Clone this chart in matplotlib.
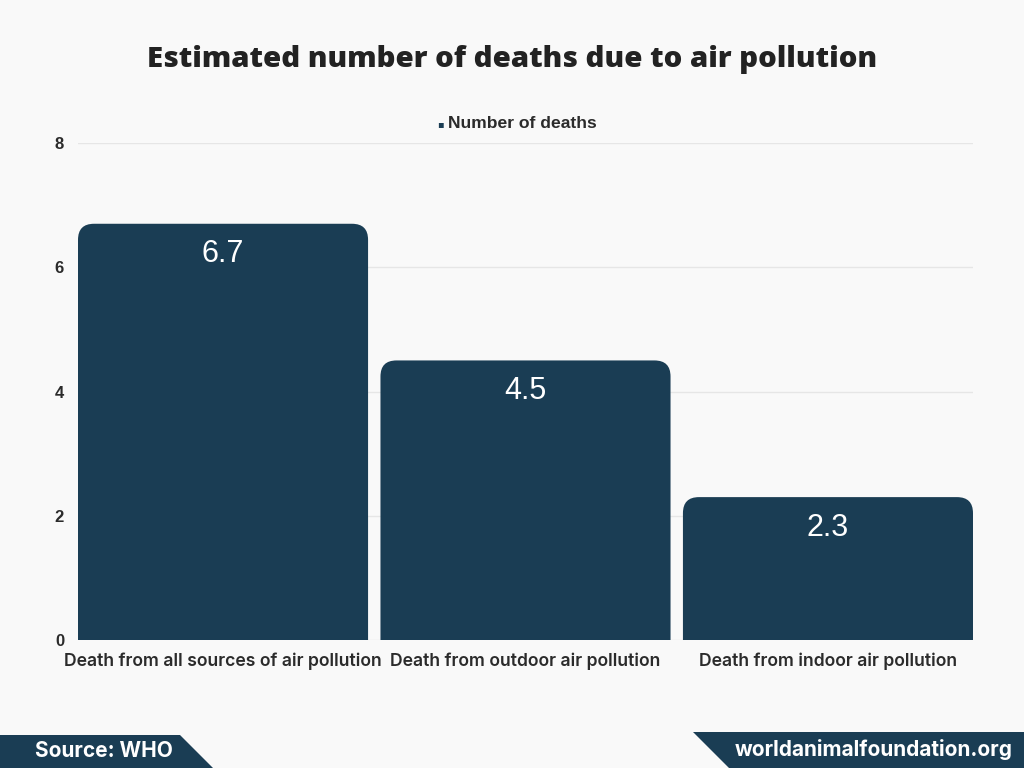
import matplotlib
matplotlib.use("Agg")
import matplotlib.pyplot as plt
from matplotlib.patches import FancyBboxPatch, Polygon

# data
categories = ["Death from all sources of air pollution",
              "Death from outdoor air pollution",
              "Death from indoor air pollution"]
deaths = [6.7, 4.5, 2.3]
y_ticks = [0, 2, 4, 6, 8]

bg = "#f9f9f9"
bar_color = "#1a3d54"
text_dark = "#2b2b2b"

fig = plt.figure(figsize=(10.24, 7.68), dpi=100, facecolor=bg)
ax = fig.add_axes([78 / 1024, 1 - 640 / 768, (973 - 78) / 1024, (640 - 143) / 768])
ax.set_facecolor(bg)

width = 0.959
ax.set_xlim(-width / 2, len(categories) - 1 + width / 2)
ax.set_ylim(0, 8)

# rounded top bars (bottom goes below 0 and is clipped by axes)
px_x = (973 - 78) / (len(categories) - 1 + width)
px_y = (640 - 143) / 8
radius = 16 / px_x
aspect = px_x / px_y
for i, v in enumerate(deaths):
    patch = FancyBboxPatch((i - width / 2, -1), width, v + 1,
                           boxstyle=f"round,pad=0,rounding_size={radius}",
                           mutation_aspect=aspect,
                           facecolor=bar_color, edgecolor="none", zorder=3)
    ax.add_patch(patch)
    ax.annotate(f"{v}", (i, v), xytext=(0, -22), textcoords="offset points",
                ha="center", va="center", color="white", fontsize=22,
                family="Liberation Sans", zorder=4)

ax.set_yticks(y_ticks)
ax.set_yticklabels([str(t) for t in y_ticks], fontsize=12, fontweight="bold",
                   color=text_dark, family="Liberation Sans")
ax.set_xticks(range(len(categories)))
ax.set_xticklabels(categories, fontsize=12.7, fontweight="semibold",
                   color=text_dark, family="Inter")
ax.tick_params(axis="both", length=0)
ax.tick_params(axis="y", pad=10)
ax.tick_params(axis="x", pad=9)

ax.grid(axis="y", color="#e6e6e6", linewidth=1, zorder=0)
for s in ax.spines.values():
    s.set_visible(False)

# title and legend
fig.text(0.5, 1 - 59 / 768, "Estimated number of deaths due to air pollution",
         ha="center", va="center", fontsize=21.2, fontweight="heavy",
         color="#222222", family="Open Sans")
fig.text(440 / 1024, 1 - 124 / 768, "\u25aa", ha="center", va="center",
         fontsize=7, color=bar_color, family="DejaVu Sans")
fig.text(448 / 1024, 1 - 124 / 768, "Number of deaths", ha="left", va="center",
         fontsize=12.6, fontweight="bold", color=text_dark, family="Liberation Sans")

# footer banners
W, H = 1024, 768
left = [(0, 735), (180, 735), (213, 768), (0, 768)]
right = [(693, 732), (1024, 732), (1024, 768), (729, 768)]
for pts in (left, right):
    fig.patches.append(Polygon([(x / W, 1 - y / H) for x, y in pts], closed=True,
                               transform=fig.transFigure, facecolor=bar_color,
                               edgecolor="none"))
fig.text(104 / 1024, 1 - 751 / 768, "Source: WHO", ha="center", va="center",
         fontsize=15, fontweight="bold", color="white", family="Inter")
fig.text(874 / 1024, 1 - 749 / 768, "worldanimalfoundation.org", ha="center",
         va="center", fontsize=15, fontweight="bold", color="white",
         family="Inter")

fig.savefig("out.png", dpi=100, facecolor=bg)
